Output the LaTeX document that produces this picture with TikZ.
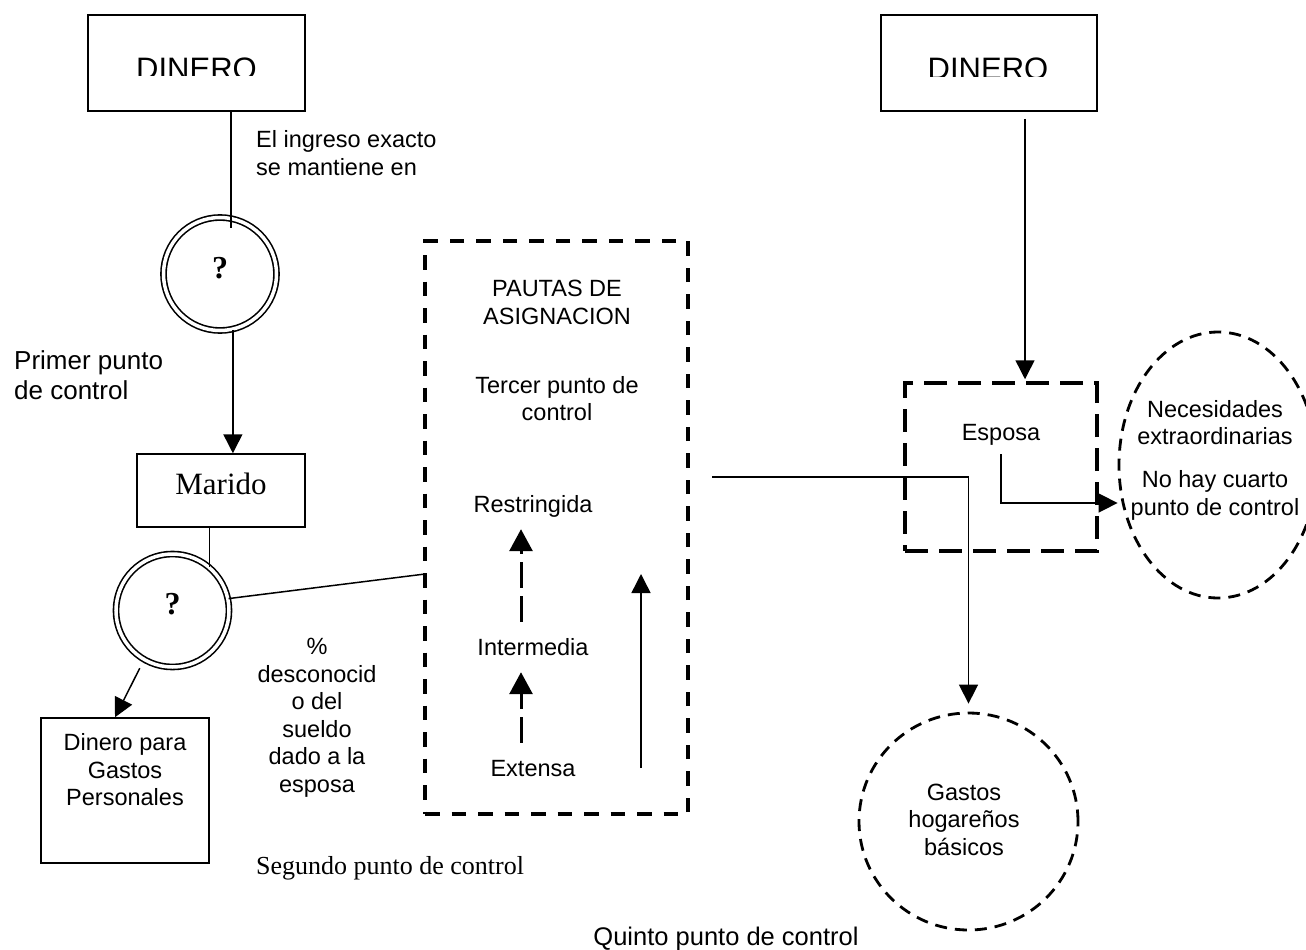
\documentclass[tikz,border=0pt]{standalone}
\usepackage{fontspec}
\setmainfont{Liberation Sans}
\newfontfamily\serifx{Liberation Serif}
\usetikzlibrary{arrows.meta,shapes.geometric,calc}
\newcommand\fsA{\fontsize{23.5}{27.5}\selectfont}
\newcommand\fsB{\fontsize{26}{30}\selectfont}
\begin{document}
\begin{tikzpicture}[x=1pt,y=-1pt,
  bx/.style={draw,line width=1.5pt,rectangle,inner sep=0pt},
  dbx/.style={draw,line width=3.5pt,rectangle,inner sep=0pt,dash pattern=on 14.5pt off 12pt},
  dell/.style={draw,ellipse,line width=2.8pt,inner sep=0pt,dash pattern=on 12pt off 8pt},
  ring/.style={draw,circle,double,double distance=3.5pt,line width=1.6pt,minimum size=113pt,inner sep=0pt,font=\serifx\bfseries\fontsize{32}{32}\selectfont,text depth=13pt},
  tx/.style={font=\fsA,align=center,inner sep=0pt},
  ln/.style={line width=1.5pt},
  arr/.style={ln,-{Triangle[length=19pt,width=19pt]}},
  darr/.style={line width=3pt,dash pattern=on 26pt off 8pt,-{Triangle[length=22pt,width=23pt]}},
]
\useasboundingbox (0,0) rectangle (1306,950);

% left column
\node[bx,minimum width=217pt,minimum height=96pt] (din1) at (196.5,63) {};
\begin{scope}
\clip (88,15) rectangle (305,75.5);
\node[font=\fontsize{31}{31}\selectfont,inner sep=0pt,anchor=base] (din1t) at (196.5,79.5) {DINERO};
\end{scope}
\node[tx,align=left,anchor=west] (ingr) at (256,153) {El ingreso exacto\\se mantiene en};
\node[ring] (q1) at (220,274) {?};
\node[font=\fsB,align=left,inner sep=0pt,anchor=west] (prim) at (14,375) {Primer punto\\de control};
\node[bx,minimum width=168pt,minimum height=73pt,font=\serifx\fontsize{31}{31}\selectfont,text depth=14pt] (mar) at (221,490.5) {Marido};
\node[ring] (q2) at (172.5,610.5) {?};
\node[bx,minimum width=168pt,minimum height=145pt] (dgp) at (125,790.5) {};
\node[tx] (dgpt) at (125,770) {Dinero para\\Gastos\\Personales};
\node[tx] (pct) at (317,718) {\%\\desconocid\\o del\\sueldo\\dado a la\\esposa};
\node[font=\serifx\fontsize{26}{30}\selectfont,inner sep=0pt] (seg) at (390,868) {Segundo punto de control};

% pautas
\node[dbx,minimum width=263pt,minimum height=573pt] (pau) at (556.5,527.5) {};
\node[tx] (paut) at (557,302.5) {PAUTAS DE\\ASIGNACION};
\node[tx] (terc) at (557,398.5) {Tercer punto de\\control};
\node[tx,text height=17pt,text depth=5pt] (res) at (533,506) {Restringida};
\node[tx,text height=17pt,text depth=5pt] (int) at (533,649) {Intermedia};
\node[tx,text height=17pt,text depth=5pt] (ext) at (533,770) {Extensa};

% right side
\node[bx,minimum width=216pt,minimum height=96pt] (din2) at (989,63) {};
\begin{scope}
\clip (881,15) rectangle (1097,76);
\node[font=\fontsize{31}{31}\selectfont,inner sep=0pt,anchor=base] (din2t) at (988,79.5) {DINERO};
\end{scope}
\node[dbx,minimum width=192pt,minimum height=168pt,dash pattern=on 23pt off 11pt] (esp) at (1001,467) {};
\node[tx,text height=17pt,text depth=5pt] (espt) at (1001,434) {Esposa};
\node[dell,minimum width=198pt,minimum height=266pt] (nec) at (1218,465) {};
\node[tx] (nect) at (1215,422.5) {Necesidades\\extraordinarias};
\node[tx] (noh) at (1215,495.5) {No hay cuarto\\punto de control};
\node[dell,minimum width=219pt,minimum height=217pt] (gas) at (968.5,821.5) {};
\node[tx] (gast) at (964,819.5) {Gastos\\hogareños\\básicos};
\node[font=\fontsize{25.5}{30}\selectfont,inner sep=0pt] (quin) at (726,938.5) {Quinto punto de control};

% connectors
\coordinate (c1in) at (231,228);
\draw[ln] (din1.south -| c1in) -- (c1in);
\draw[arr] (q1.-77) -- (q1.-77 |- mar.north);
\draw[ln] (q2.50 |- mar.south) -- (q2.50);
\coordinate (pin) at (425,574);
\draw[ln] (q2.12) -- (pin);
\draw[arr,shorten <=9pt] (q2.-120) -- ($(dgp.north)+(-10,0)$);

\coordinate (ax) at (521,0);
\draw[darr,shorten <=16pt,shorten >=12pt] (ext.north -| ax) -- (int.south -| ax);
\draw[darr,shorten <=16pt,shorten >=12pt] (int.north -| ax) -- (res.south -| ax);
\coordinate (sa) at (641,768);
\coordinate (sb) at (641,574);
\draw[arr] (sa) -- (sb);

\coordinate (xo) at (712,477);
\draw[arr] (xo) -| ([yshift=8pt]gas.north);
\draw[arr,shorten <=7pt,shorten >=2pt] ([xshift=36pt]din2.south) -- ([xshift=36pt]din2.south |- esp.north);
\coordinate (ky) at (0,503);
\draw[arr] ([yshift=-9pt]espt.south) |- (nec.west |- ky);
\end{tikzpicture}
\end{document}
